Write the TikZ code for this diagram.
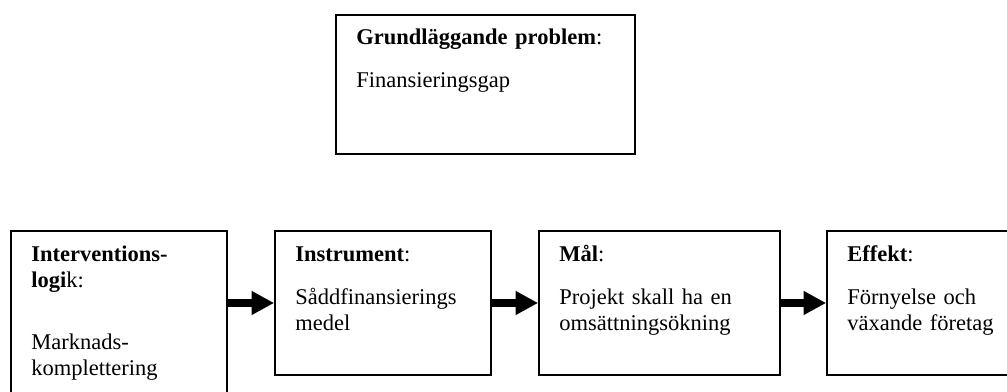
\documentclass[tikz,border=0pt]{standalone}
\usepackage{fontspec}
\setmainfont{Liberation Serif}
\usetikzlibrary{positioning,arrows.meta}

\begin{document}
\begin{tikzpicture}[x=0.025cm, y=0.025cm, b/.style={rectangle, draw, line width=1.2pt}, t/.style={anchor=base west, inner sep=0pt, align=left, font=\fontsize{16}{18.5}\selectfont}, a/.style={line width=5pt, -{Triangle[length=16pt, width=16pt]}}]
		\useasboundingbox (0,0) rectangle (1007,-392);
		\node[b, minimum width=7.475cm, minimum height=3.475cm] (G) at (485.5,-84.5) {};
		\node[t, text width=6.8cm] (G_text) at ([shift={(21,-30)}]G.north west) {\textbf{Grundläggande problem}:\\[12pt]Finansieringsgap};
		\node[b, minimum width=5.4cm, minimum height=4.075cm] (I) at (119,-312.5) {};
		\node[t, text width=4.8cm] (I_text) at ([shift={(21,-31)}]I.north west) {\textbf{Interventions-}\\\textbf{logi}k:\\[25.6pt]Marknads-\\komplettering};
		\node[b, minimum width=5.4cm, minimum height=3.6cm] (In) at (383,-303) {};
		\node[t, text width=4.8cm] (In_text) at ([shift={(21,-31)}]In.north west) {\textbf{Instrument}:\\[12pt]Såddfinansierings\\medel};
		\node[b, minimum width=6.025cm, minimum height=3.6cm] (M) at (659.5,-303) {};
		\node[t, text width=5.4cm] (M_text) at ([shift={(21,-31)}]M.north west) {\textbf{Mål}:\\[12pt]Projekt skall ha en\\omsättningsökning};
		\node[b, minimum width=4.625cm, minimum height=3.6cm] (E) at (919.5,-303) {};
		\node[t, text width=4cm] (E_text) at ([shift={(21,-31)}]E.north west) {\textbf{Effekt}:\\[12pt]Förnyelse och\\växande företag};

		\draw[a] (I.east |- In) -- (In);
		\draw[a] (In) -- (M);
		\draw[a] (M) -- (E);
	\end{tikzpicture}
\end{document}
